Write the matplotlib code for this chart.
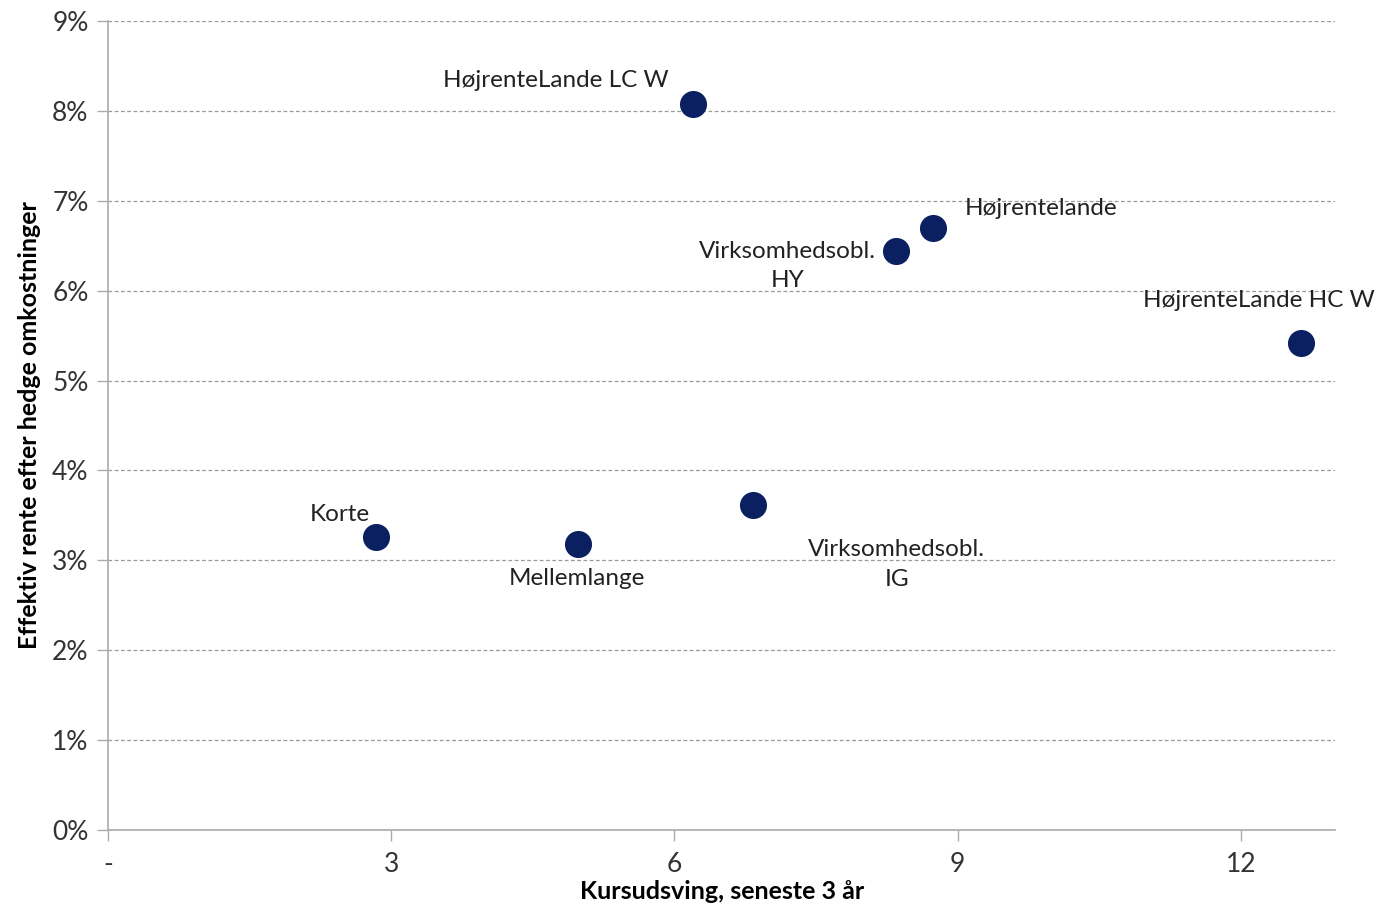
import matplotlib
matplotlib.use("Agg")
import matplotlib.pyplot as plt
from matplotlib.ticker import FuncFormatter

# data
names = ["Korte", "Mellemlange", "Virksomhedsobl.\nIG", "HøjrenteLande LC W",
         "Virksomhedsobl.\nHY", "Højrentelande", "HøjrenteLande HC W"]
kursudsving = [2.84, 4.98, 6.83, 6.20, 8.35, 8.74, 12.64]
rente = [3.26, 3.18, 3.62, 8.08, 6.44, 6.70, 5.42]
# label offsets in pixels (dx, dy)
offsets = [(-36, 22), (-1, -34), (144, -60), (-138, 23), (-109, -15), (108, 19), (-42, 42)]

plt.rcParams["font.family"] = ["Lato", "DejaVu Sans"]

fig = plt.figure(figsize=(13.78, 9.07), dpi=100)
ax = fig.add_axes([0.0784, 0.0849, 0.8906, 0.8919])

ax.scatter(kursudsving, rente, s=380, color="#0b2060", zorder=3, linewidths=0)
for n, x, y, (dx, dy) in zip(names, kursudsving, rente, offsets):
    ax.annotate(n, (x, y), xytext=(dx, dy), textcoords="offset pixels",
                ha="center", va="center", fontsize=17.5, color="#222222",
                linespacing=1.5)

ax.set_xlim(0, 13)
ax.set_ylim(0, 9)
ax.set_xticks([0, 3, 6, 9, 12])
ax.set_xticklabels(["-", "3", "6", "9", "12"])
ax.set_yticks(range(10))
ax.yaxis.set_major_formatter(FuncFormatter(lambda v, p: f"{int(v)}%"))
ax.tick_params(axis="both", labelsize=19, colors="#333333")
ax.tick_params(axis="x", length=8, width=1, color="#aaaaaa", pad=8)
ax.tick_params(axis="y", length=8, width=1, color="#aaaaaa", pad=6)

ax.grid(axis="y", linestyle=(0, (3, 2)), color="#999999", linewidth=0.9)
ax.set_axisbelow(True)
for s in ["top", "right"]:
    ax.spines[s].set_visible(False)
for s in ["left", "bottom"]:
    ax.spines[s].set_color("#aaaaaa")
    ax.spines[s].set_linewidth(1.2)

ax.set_xlabel("Kursudsving, seneste 3 år", fontsize=18, fontweight="bold", labelpad=2)
ax.set_ylabel("Effektiv rente efter hedge omkostninger", fontsize=18,
              fontweight="bold", labelpad=8)

fig.savefig("out.png", dpi=100)
